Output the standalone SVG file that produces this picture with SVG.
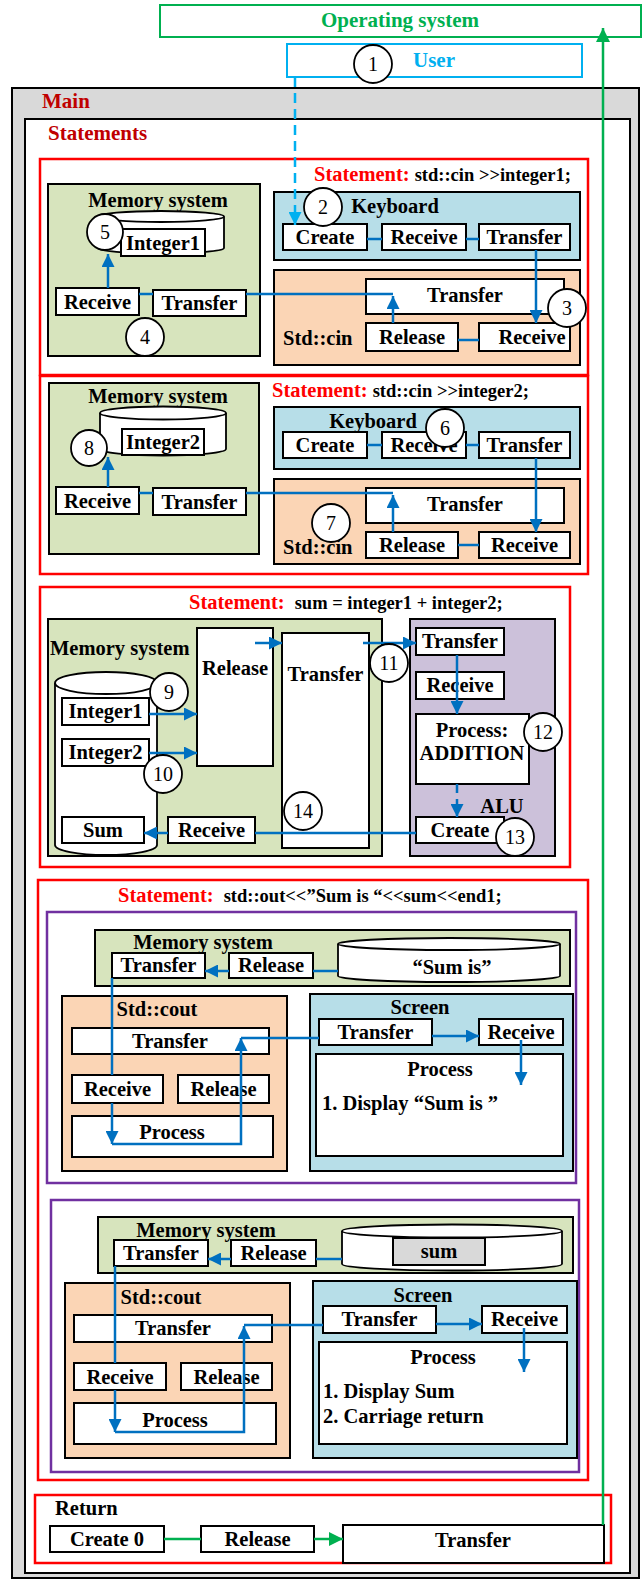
<svg xmlns="http://www.w3.org/2000/svg" width="642" height="1580" viewBox="0 0 642 1580">
<style>
.box{fill:#fff;stroke:#000;stroke-width:2}
.mem{fill:#d7e4bd;stroke:#000;stroke-width:2}
.kb{fill:#b7dee8;stroke:#000;stroke-width:2}
.cin{fill:#fbd5b5;stroke:#000;stroke-width:2}
.alu{fill:#ccc1da;stroke:#000;stroke-width:2}
.red{fill:none;stroke:#ff0000;stroke-width:2.5}
.purp{fill:none;stroke:#7030a0;stroke-width:2.5}
.t{font-family:"Liberation Serif","Times New Roman",serif;font-weight:bold;font-size:20.5px;fill:#000}
.c{text-anchor:middle}
.num{font-family:"Liberation Serif","Times New Roman",serif;font-size:20px;text-anchor:middle;fill:#000}
.circ{fill:#fff;stroke:#000;stroke-width:1.8}
.bl{stroke:#0070c0;stroke-width:2.5;fill:none}
.ba{stroke:#0070c0;stroke-width:2.5;fill:none;marker-end:url(#ab)}
.gl{stroke:#00b050;stroke-width:2.5;fill:none}
.ttl{font-family:"Liberation Serif","Times New Roman",serif;font-weight:bold;font-size:21px}
.st{fill:#ff0000;font-size:20.5px}
.code{fill:#000;font-size:18.5px}
.cyl{fill:#fff;stroke:#000;stroke-width:1.8}
</style>
<defs>
<marker id="ab" viewBox="0 0 10 10" refX="10" refY="5" markerWidth="14" markerHeight="13" markerUnits="userSpaceOnUse" orient="auto"><path d="M0,0 L10,5 L0,10 z" fill="#0070c0"/></marker>
<marker id="ag" viewBox="0 0 10 10" refX="10" refY="5" markerWidth="15" markerHeight="14" markerUnits="userSpaceOnUse" orient="auto"><path d="M0,0 L10,5 L0,10 z" fill="#00b050"/></marker>
<marker id="ac" viewBox="0 0 10 10" refX="10" refY="5" markerWidth="13" markerHeight="13" markerUnits="userSpaceOnUse" orient="auto"><path d="M0,0 L10,5 L0,10 z" fill="#00b0f0"/></marker>
</defs>

<g id="os">
<rect x="160" y="5" width="481" height="32" fill="#fff" stroke="#00b050" stroke-width="2"/>
<text x="400" y="27" class="ttl c" fill="#00b050">Operating system</text>
</g>
<g id="user">
<rect x="287" y="44" width="295" height="33" fill="#fff" stroke="#00b0f0" stroke-width="2"/>
<text x="434" y="67" class="ttl c" fill="#00b0f0">User</text>
</g>

<g id="main">
<rect x="12" y="88" width="627" height="1490" fill="#d9d9d9" stroke="#000" stroke-width="2"/>
<text x="42" y="108" class="ttl" fill="#c00000">Main</text>
</g>
<g id="statements">
<rect x="25" y="119" width="605" height="1454" fill="#fff" stroke="#000" stroke-width="2"/>
<text x="48" y="140" class="ttl" fill="#c00000">Statements</text>
</g>

<!-- Statement 1 -->
<g id="stmt1">
<rect x="40" y="159" width="548" height="216" class="red"/>
<text x="314" y="181" class="t"><tspan class="st">Statement:</tspan><tspan class="code" dx="5">std::cin &gt;&gt;integer1;</tspan></text>
</g>
<g id="mem1">
<rect x="48" y="184" width="212" height="172" class="mem"/>
<text x="158" y="207" class="t c">Memory system</text>
<path d="M98,216.5 L98,248 A63,5.5 0 0 0 224,248 L224,216.5" class="cyl"/>
<ellipse cx="161" cy="216.5" rx="63" ry="5.5" class="cyl"/>
<rect x="121" y="229" width="84" height="27" class="box"/>
<text x="163" y="250" class="t c">Integer1</text>
<rect x="56" y="288" width="83" height="27" class="box"/>
<text x="97.5" y="309" class="t c">Receive</text>
<rect x="153" y="290" width="93" height="26" class="box"/>
<text x="199.5" y="310" class="t c">Transfer</text>
</g>
<g id="kb1">
<rect x="274" y="192" width="306" height="68" class="kb"/>
<text x="395" y="213" class="t c">Keyboard</text>
<rect x="283" y="224" width="84" height="26" class="box"/>
<text x="325" y="244" class="t c">Create</text>
<rect x="382" y="224" width="84" height="26" class="box"/>
<text x="424" y="244" class="t c">Receive</text>
<rect x="479" y="224" width="91" height="26" class="box"/>
<text x="524.5" y="244" class="t c">Transfer</text>
</g>
<g id="cin1">
<rect x="274" y="270" width="306" height="95" class="cin"/>
<text x="283" y="345" class="t">Std::cin</text>
<rect x="366" y="279" width="198" height="35" class="box"/>
<text x="465" y="302" class="t c">Transfer</text>
<rect x="366" y="323" width="92" height="28" class="box"/>
<text x="412" y="344" class="t c">Release</text>
<rect x="479" y="323" width="91" height="28" class="box"/>
<text x="532" y="344" class="t c">Receive</text>
</g>

<!-- Statement 2 -->
<g id="stmt2">
<rect x="40" y="376" width="548" height="198" class="red"/>
<text x="272" y="397" class="t"><tspan class="st">Statement:</tspan><tspan class="code" dx="5">std::cin &gt;&gt;integer2;</tspan></text>
</g>
<g id="mem2">
<rect x="49" y="383" width="210" height="171" class="mem"/>
<text x="158" y="403" class="t c">Memory system</text>
<path d="M100,413 L100,449 A63,6.5 0 0 0 226,449 L226,413" class="cyl"/>
<ellipse cx="163" cy="413" rx="63" ry="6.5" class="cyl"/>
<rect x="122" y="429" width="82" height="26" class="box"/>
<text x="163" y="449" class="t c">Integer2</text>
<rect x="56" y="487" width="83" height="27" class="box"/>
<text x="97.5" y="508" class="t c">Receive</text>
<rect x="153" y="488" width="93" height="27" class="box"/>
<text x="199.5" y="509" class="t c">Transfer</text>
</g>
<g id="kb2">
<rect x="274" y="407" width="306" height="62" class="kb"/>
<text x="373" y="428" class="t c">Keyboard</text>
<rect x="283" y="432" width="84" height="26" class="box"/>
<text x="325" y="452" class="t c">Create</text>
<rect x="382" y="432" width="84" height="26" class="box"/>
<text x="424" y="452" class="t c">Receive</text>
<rect x="479" y="432" width="91" height="26" class="box"/>
<text x="524.5" y="452" class="t c">Transfer</text>
</g>
<g id="cin2">
<rect x="274" y="479" width="306" height="85" class="cin"/>
<text x="283" y="554" class="t">Std::cin</text>
<rect x="366" y="488" width="198" height="35" class="box"/>
<text x="465" y="511" class="t c">Transfer</text>
<rect x="366" y="532" width="92" height="26" class="box"/>
<text x="412" y="552" class="t c">Release</text>
<rect x="479" y="532" width="91" height="26" class="box"/>
<text x="524.5" y="552" class="t c">Receive</text>
</g>

<!-- Statement 3 -->
<g id="stmt3">
<rect x="40" y="587" width="530" height="280" class="red"/>
<text x="189" y="609" class="t"><tspan class="st">Statement:</tspan><tspan class="code" dx="10">sum = integer1 + integer2;</tspan></text>
</g>
<g id="mem3">
<rect x="48" y="619" width="334" height="237" class="mem"/>
<text x="50" y="655" class="t">Memory system</text>
<path d="M55,683 L55,845 A51,10 0 0 0 157,845 L157,683" class="cyl"/>
<ellipse cx="106" cy="683" rx="51" ry="11" class="cyl"/>
<rect x="62" y="698" width="87" height="27" class="box"/>
<text x="105.5" y="718" class="t c">Integer1</text>
<rect x="62" y="739" width="87" height="27" class="box"/>
<text x="105.5" y="759" class="t c">Integer2</text>
<rect x="62" y="817" width="82" height="26" class="box"/>
<text x="103" y="837" class="t c">Sum</text>
<rect x="197" y="628" width="76" height="138" class="box"/>
<text x="235" y="675" class="t c">Release</text>
<rect x="282" y="633" width="87" height="215" class="box"/>
<text x="325.5" y="681" class="t c">Transfer</text>
<rect x="168" y="817" width="87" height="26" class="box"/>
<text x="211.5" y="837" class="t c">Receive</text>
</g>
<g id="alu">
<rect x="410" y="619" width="145" height="237" class="alu"/>
<rect x="416" y="628" width="88" height="27" class="box"/>
<text x="460" y="648" class="t c">Transfer</text>
<rect x="416" y="672" width="88" height="27" class="box"/>
<text x="460" y="692" class="t c">Receive</text>
<rect x="416" y="714" width="113" height="70" class="box"/>
<text x="472" y="737" class="t c">Process:</text>
<text x="472" y="760" class="t c">ADDITION</text>
<text x="502" y="813" class="t c">ALU</text>
<rect x="416" y="817" width="88" height="26" class="box"/>
<text x="460" y="837" class="t c">Create</text>
</g>

<!-- Statement 4 -->
<g id="stmt4">
<rect x="38" y="880" width="550" height="600" class="red"/>
<text x="118" y="902" class="t"><tspan class="st">Statement:</tspan><tspan class="code" dx="10">std::out&lt;&lt;”Sum is “&lt;&lt;sum&lt;&lt;end1;</tspan></text>
</g>
<g id="out1">
<rect x="47" y="912" width="529" height="271" class="purp"/>
<rect x="95" y="930" width="475" height="56" class="mem"/>
<text x="203" y="949" class="t c">Memory system</text>
<rect x="112" y="953" width="93" height="25" class="box"/>
<text x="158.5" y="972" class="t c">Transfer</text>
<rect x="229" y="953" width="84" height="25" class="box"/>
<text x="271" y="972" class="t c">Release</text>
<path d="M338,944 L338,976 A111,6 0 0 0 560,976 L560,944" class="cyl"/>
<ellipse cx="449" cy="944" rx="111" ry="6" class="cyl"/>
<text x="452" y="974" class="t c">“Sum is”</text>
<rect x="62" y="996" width="225" height="175" class="cin"/>
<text x="157" y="1016" class="t c">Std::cout</text>
<rect x="72" y="1028" width="197" height="26" class="box"/>
<text x="170" y="1048" class="t c">Transfer</text>
<rect x="72" y="1075" width="91" height="28" class="box"/>
<text x="117.5" y="1096" class="t c">Receive</text>
<rect x="178" y="1075" width="91" height="28" class="box"/>
<text x="223.5" y="1096" class="t c">Release</text>
<rect x="72" y="1116" width="201" height="41" class="box"/>
<text x="172" y="1139" class="t c">Process</text>
<rect x="310" y="994" width="263" height="177" class="kb"/>
<text x="420" y="1014" class="t c">Screen</text>
<rect x="319" y="1019" width="113" height="26" class="box"/>
<text x="375.5" y="1039" class="t c">Transfer</text>
<rect x="479" y="1019" width="84" height="26" class="box"/>
<text x="521" y="1039" class="t c">Receive</text>
<rect x="316" y="1054" width="247" height="102" class="box"/>
<text x="440" y="1076" class="t c">Process</text>
<text x="322" y="1110" class="t">1. Display “Sum is ”</text>
</g>
<g id="out2">
<rect x="51" y="1200" width="528" height="272" class="purp"/>
<rect x="98" y="1217" width="475" height="56" class="mem"/>
<text x="206" y="1237" class="t c">Memory system</text>
<rect x="114" y="1240" width="94" height="26" class="box"/>
<text x="161" y="1260" class="t c">Transfer</text>
<rect x="231" y="1240" width="85" height="26" class="box"/>
<text x="273.5" y="1260" class="t c">Release</text>
<path d="M342,1231 L342,1264 A110,6.5 0 0 0 562,1264 L562,1231" class="cyl"/>
<ellipse cx="452" cy="1231" rx="110" ry="6.5" class="cyl"/>
<rect x="393" y="1238" width="92" height="27" fill="#d9d9d9" stroke="#000" stroke-width="2"/>
<text x="439" y="1258" class="t c">sum</text>
<rect x="65" y="1283" width="225" height="175" class="cin"/>
<text x="161" y="1304" class="t c">Std::cout</text>
<rect x="74" y="1315" width="198" height="27" class="box"/>
<text x="173" y="1335" class="t c">Transfer</text>
<rect x="74" y="1363" width="92" height="27" class="box"/>
<text x="120" y="1384" class="t c">Receive</text>
<rect x="181" y="1363" width="91" height="27" class="box"/>
<text x="226.5" y="1384" class="t c">Release</text>
<rect x="74" y="1403" width="202" height="41" class="box"/>
<text x="175" y="1427" class="t c">Process</text>
<rect x="313" y="1281" width="264" height="177" class="kb"/>
<text x="423" y="1302" class="t c">Screen</text>
<rect x="323" y="1306" width="113" height="27" class="box"/>
<text x="379.5" y="1326" class="t c">Transfer</text>
<rect x="482" y="1306" width="85" height="27" class="box"/>
<text x="524.5" y="1326" class="t c">Receive</text>
<rect x="319" y="1342" width="248" height="102" class="box"/>
<text x="443" y="1364" class="t c">Process</text>
<text x="323" y="1398" class="t">1. Display Sum</text>
<text x="323" y="1423" class="t">2. Carriage return</text>
</g>

<!-- Return -->
<g id="return">
<rect x="35" y="1495" width="576" height="68" class="red"/>
<text x="55" y="1515" class="t">Return</text>
<rect x="50" y="1526" width="114" height="26" class="box"/>
<text x="107" y="1546" class="t c">Create 0</text>
<rect x="201" y="1526" width="113" height="26" class="box"/>
<text x="257.5" y="1546" class="t c">Release</text>
<rect x="343" y="1525" width="261" height="38" class="box"/>
<text x="473" y="1547" class="t c">Transfer</text>
</g>

<g id="connectors">
<line x1="295" y1="77" x2="295" y2="225" stroke="#00b0f0" stroke-width="2.5" stroke-dasharray="10,6" marker-end="url(#ac)"/>
<!-- stmt1 -->
<line x1="108" y1="288" x2="108" y2="254" class="ba"/>
<line x1="139" y1="294" x2="153" y2="294" class="bl"/>
<line x1="246" y1="294" x2="393" y2="294" class="bl"/>
<line x1="393" y1="323" x2="393" y2="296" class="ba"/>
<line x1="367" y1="239" x2="382" y2="239" class="bl"/>
<line x1="466" y1="239" x2="479" y2="239" class="bl"/>
<line x1="536" y1="250" x2="536" y2="323" class="ba"/>
<line x1="458" y1="340" x2="479" y2="340" class="bl"/>
<!-- stmt2 -->
<line x1="108" y1="487" x2="108" y2="457" class="ba"/>
<line x1="139" y1="493" x2="153" y2="493" class="bl"/>
<line x1="246" y1="493" x2="393" y2="493" class="bl"/>
<line x1="393" y1="532" x2="393" y2="495" class="ba"/>
<line x1="367" y1="445" x2="382" y2="445" class="bl"/>
<line x1="466" y1="445" x2="479" y2="445" class="bl"/>
<line x1="536" y1="458" x2="536" y2="532" class="ba"/>
<line x1="458" y1="545" x2="479" y2="545" class="bl"/>
<!-- stmt3 -->
<line x1="149" y1="714" x2="197" y2="714" class="ba"/>
<line x1="149" y1="753" x2="197" y2="753" class="ba"/>
<line x1="255" y1="643" x2="282" y2="643" class="ba"/>
<line x1="363" y1="643" x2="416" y2="643" class="ba"/>
<line x1="416" y1="833" x2="255" y2="833" class="bl"/>
<line x1="168" y1="833" x2="144" y2="833" class="ba"/>
<line x1="457" y1="655" x2="457" y2="714" class="ba"/>
<line x1="457" y1="784" x2="457" y2="817" stroke="#0070c0" stroke-width="2.5" stroke-dasharray="9,6" marker-end="url(#ab)"/>
<!-- stmt4 part1 -->
<line x1="229" y1="971" x2="205" y2="971" class="ba"/>
<line x1="338" y1="971" x2="313" y2="971" class="bl"/>
<line x1="112" y1="978" x2="112" y2="1075" class="bl"/>
<line x1="112" y1="1103" x2="112" y2="1144" class="ba"/>
<polyline points="112,1144 241,1144 241,1038" class="ba"/>
<line x1="241" y1="1038" x2="319" y2="1038" class="bl"/>
<line x1="432" y1="1036" x2="479" y2="1036" class="ba"/>
<line x1="521" y1="1040" x2="521" y2="1085" class="ba"/>
<!-- stmt4 part2 -->
<line x1="231" y1="1259" x2="208" y2="1259" class="ba"/>
<line x1="342" y1="1259" x2="316" y2="1259" class="bl"/>
<line x1="115" y1="1266" x2="115" y2="1363" class="bl"/>
<line x1="115" y1="1390" x2="115" y2="1432" class="ba"/>
<polyline points="115,1432 244,1432 244,1326" class="ba"/>
<line x1="244" y1="1325" x2="323" y2="1325" class="bl"/>
<line x1="436" y1="1324" x2="482" y2="1324" class="ba"/>
<line x1="524" y1="1328" x2="524" y2="1372" class="ba"/>
<!-- return -->
<line x1="164" y1="1539" x2="201" y2="1539" class="gl"/>
<line x1="314" y1="1539" x2="343" y2="1539" class="gl" marker-end="url(#ag)"/>
<line x1="603" y1="1525" x2="603" y2="28" class="gl" marker-end="url(#ag)"/>
</g>

<g id="markers">
<circle cx="373" cy="64" r="19" class="circ"/><text x="373" y="71" class="num">1</text>
<circle cx="323" cy="207" r="19" class="circ"/><text x="323" y="214" class="num">2</text>
<circle cx="567" cy="308" r="19" class="circ"/><text x="567" y="315" class="num">3</text>
<circle cx="145" cy="337" r="19" class="circ"/><text x="145" y="344" class="num">4</text>
<circle cx="105" cy="232" r="18" class="circ"/><text x="105" y="239" class="num">5</text>
<circle cx="445" cy="428" r="19" class="circ"/><text x="445" y="435" class="num">6</text>
<circle cx="331" cy="523" r="19" class="circ"/><text x="331" y="530" class="num">7</text>
<circle cx="89" cy="448" r="18" class="circ"/><text x="89" y="455" class="num">8</text>
<circle cx="169" cy="692" r="19" class="circ"/><text x="169" y="699" class="num">9</text>
<circle cx="163" cy="774" r="19" class="circ"/><text x="163" y="781" class="num">10</text>
<circle cx="389" cy="663" r="19" class="circ"/><text x="389" y="670" class="num">11</text>
<circle cx="543" cy="732" r="19" class="circ"/><text x="543" y="739" class="num">12</text>
<circle cx="515" cy="837" r="19" class="circ"/><text x="515" y="844" class="num">13</text>
<circle cx="303" cy="811" r="19" class="circ"/><text x="303" y="818" class="num">14</text>
</g>
</svg>
